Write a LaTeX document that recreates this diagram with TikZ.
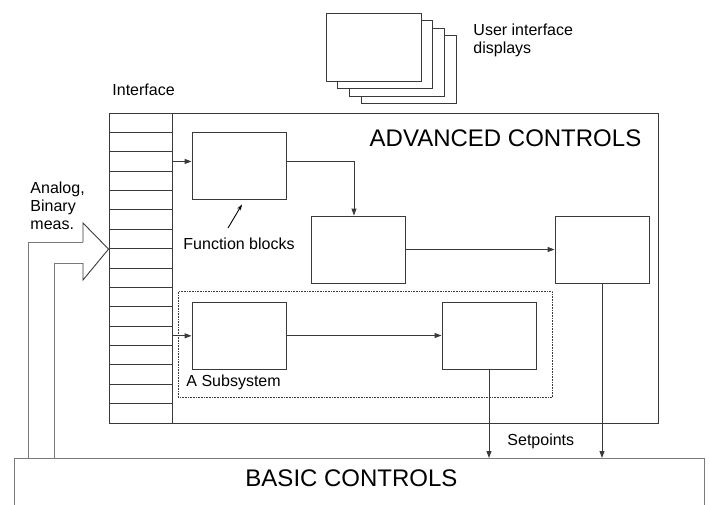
\documentclass[tikz,border=0pt]{standalone}
\usepackage{fontspec}
\setmainfont{Liberation Sans}
\usetikzlibrary{arrows.meta}
\definecolor{linegray}{HTML}{3A3A3A}
\definecolor{litegray}{HTML}{7A7A7A}
\tikzset{
  fblock/.style={draw=linegray, fill=white, minimum width=94pt, minimum height=67pt, inner sep=0pt},
  cell/.style={draw=linegray, minimum width=63pt, minimum height=19.375pt, inner sep=0pt},
  display/.style={draw=linegray, fill=white, minimum width=95pt, minimum height=68pt, inner sep=0pt},
  lbl/.style={inner sep=0pt, font=\fontsize{16}{18}\selectfont, align=left},
  big/.style={inner sep=0pt, font=\fontsize{24}{28}\selectfont},
  sig/.style={draw=linegray, -{Triangle[length=7pt,width=5pt]}}
}
\begin{document}
\begin{tikzpicture}[x=1pt,y=-1pt,line width=0.9pt]
                    \useasboundingbox (0,0) rectangle (710,504);

                    \foreach \i in {3,2,1,0}
                        \node[display] (disp\i) at ({373.5+11.7*\i},{47+7.5*\i}) {};
                    \node[lbl, anchor=north west] (uitext) at (473,23) {User interface\\displays};

                    \node[draw=linegray, minimum width=549pt, minimum height=310pt, inner sep=0pt, anchor=north west] (adv) at (109,113) {};
                    \node[big] (advtext) at (505.5,138) {ADVANCED CONTROLS};
                    \node[lbl, anchor=west] (iftext) at (112,90) {Interface};

                    \node[draw=linegray, densely dotted, line width=0.6pt, minimum width=374pt, minimum height=106pt, inner sep=0pt, anchor=north west] (sub) at (178,291) {};
                    \node[lbl, anchor=west] (subtext) at (186,382) {A Subsystem};

                    \foreach \i in {1,...,16}
                        \node[cell] (if\i) at (140.5,{113+19.375*(\i-0.5)}) {};

                    \node[fblock] (fb1) at (239,165.5) {};
                    \node[fblock] (fb2) at (358,249.5) {};
                    \node[fblock] (fb3) at (602,249.5) {};
                    \node[fblock] (fb4) at (239,335.5) {};
                    \node[fblock] (fb5) at (489,335.5) {};
                    \node[lbl, anchor=west] (fbtext) at (183,244) {Function blocks};

                    \node[draw=litegray, minimum width=690pt, minimum height=50pt, inner sep=0pt, anchor=north west] (basic) at (14,458) {};
                    \node[big] (basictext) at (351.5,478.5) {BASIC CONTROLS};
                    \node[lbl, anchor=west] (sptext) at (507,441) {Setpoints};

                    \draw[sig] (if3.east) -- (fb1.west |- if3.east);
                    \draw[sig] (fb1.east |- if3.east) -| ([xshift=-4pt]fb2.north);
                    \draw[sig] (fb2.east) -- (fb3.west);
                    \draw[sig] (if12.east) -- (fb4.west |- if12.east);
                    \draw[sig] (fb4.east) -- (fb5.west);
                    \draw[sig] (fb5.south) -- (fb5.south |- basic.north);
                    \draw[sig] (fb3.south) -- (fb3.south |- basic.north);

                    \coordinate (fbfoot) at (228,228);
                    \draw[-{Stealth[length=6pt,width=4pt]}] (fbfoot) -- ([xshift=3pt,yshift=-5pt]fb1.south);

                    \coordinate (tip) at (if7.south west);
                    \coordinate (m1) at (28,242);
                    \coordinate (m2) at (54,263);
                    \draw[litegray] (basic.north -| m1) -- (m1) -- (83,242);
                    \draw[litegray] (basic.north -| m2) -- (m2) -- (83,263);
                    \draw[linegray] (83,242) -- (83,223) -- (tip) -- (83,280) -- (83,263);
                    \node[lbl, anchor=north west] (meastext) at (30,181) {Analog,\\Binary\\meas.};

\end{tikzpicture}
\end{document}
